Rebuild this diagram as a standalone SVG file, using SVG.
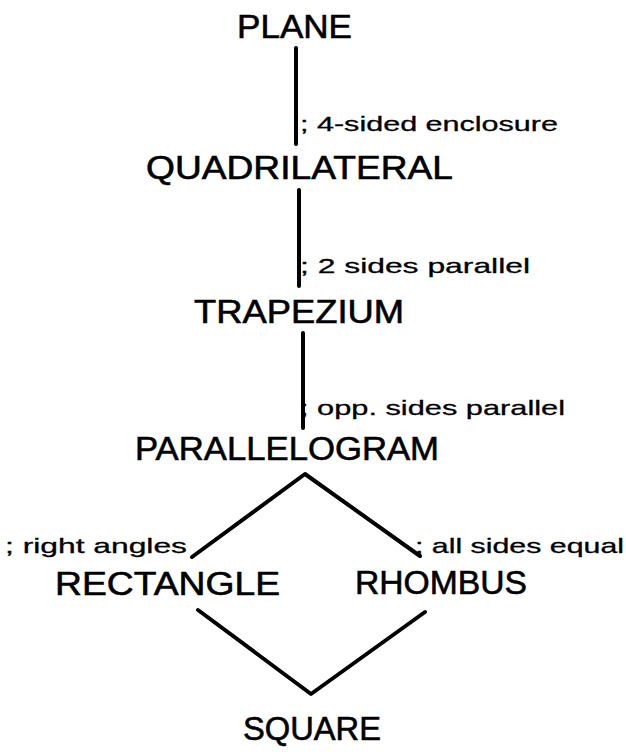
<svg xmlns="http://www.w3.org/2000/svg" width="626" height="755" viewBox="0 0 626 755">
<style>
.n{font-family:"Liberation Sans",Arial,sans-serif;font-size:33px;fill:#000;stroke:#000;stroke-width:0.6;}
.l{font-family:"Liberation Sans",Arial,sans-serif;font-size:21px;fill:#000;stroke:#000;stroke-width:0.3;}
.c{stroke:#000;stroke-width:4;fill:none;stroke-linecap:round;stroke-linejoin:round;}
</style>
<rect width="626" height="755" fill="#fff"/>
<g id="connectors">
<line class="c" x1="296" y1="48" x2="296" y2="144"/>
<line class="c" x1="299" y1="190" x2="299" y2="286"/>
<line class="c" x1="303" y1="333" x2="303" y2="428"/>
<polyline class="c" points="192,557 305,474 420,556"/>
<polyline class="c" points="198,610 311,694 425,612"/>
<text class="l" x="300" y="131" textLength="258" lengthAdjust="spacingAndGlyphs">; 4-sided enclosure</text>
<text class="l" x="300" y="273" textLength="230" lengthAdjust="spacingAndGlyphs">; 2 sides parallel</text>
<text class="l" x="300" y="415" textLength="265" lengthAdjust="spacingAndGlyphs">; opp. sides parallel</text>
<text class="l" x="5" y="553" textLength="182" lengthAdjust="spacingAndGlyphs">; right angles</text>
<text class="l" x="415" y="553" textLength="209" lengthAdjust="spacingAndGlyphs">; all sides equal</text>
</g>
<g id="plane"><text class="n" x="237" y="38" textLength="115" lengthAdjust="spacingAndGlyphs">PLANE</text></g>
<g id="quadrilateral"><text class="n" x="146" y="179" textLength="307" lengthAdjust="spacingAndGlyphs">QUADRILATERAL</text></g>
<g id="trapezium"><text class="n" x="194" y="323" textLength="210" lengthAdjust="spacingAndGlyphs">TRAPEZIUM</text></g>
<g id="parallelogram"><text class="n" x="135" y="460" textLength="304" lengthAdjust="spacingAndGlyphs">PARALLELOGRAM</text></g>
<g id="rectangle"><text class="n" x="55" y="595" textLength="225" lengthAdjust="spacingAndGlyphs">RECTANGLE</text></g>
<g id="rhombus"><text class="n" x="355" y="594" textLength="172" lengthAdjust="spacingAndGlyphs">RHOMBUS</text></g>
<g id="square"><text class="n" x="243" y="740" textLength="138" lengthAdjust="spacingAndGlyphs">SQUARE</text></g>
</svg>
